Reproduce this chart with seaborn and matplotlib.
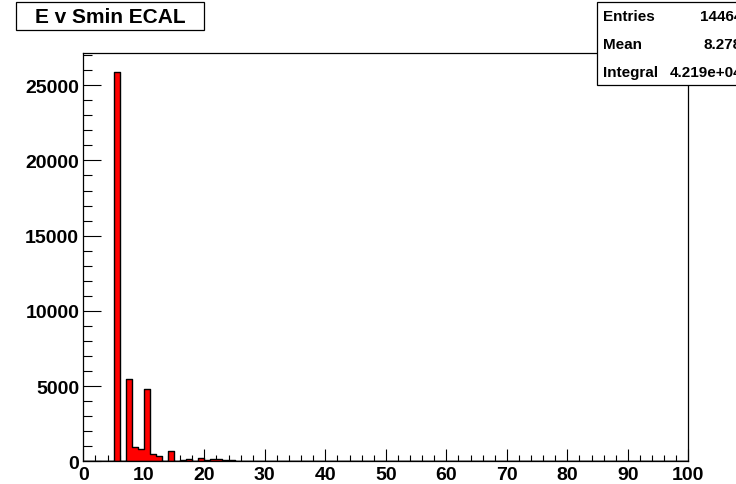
import numpy as np
import pandas as pd
import matplotlib
matplotlib.use("Agg")
import matplotlib.pyplot as plt
import seaborn as sns
from matplotlib.patches import Rectangle
from matplotlib.ticker import MultipleLocator

# ---- data (histogram bins of width 1 from 0 to 100) ----
bin_low = [5, 7, 8, 9, 10, 11, 12, 14, 15, 16, 17, 18, 19, 20, 21, 22, 23,
           24, 25, 26, 27, 28, 29, 30, 31, 32, 33, 34]
counts = [25850, 5500, 925, 815, 4790, 480, 365, 690, 20, 110, 130, 10, 200,
          115, 130, 150, 60, 60, 30, 50, 40, 30, 20, 20, 30, 15, 10, 10]
x_min, x_max, n_bins = 0, 100, 100

title_text = "E v Smin ECAL"
stats_labels = ["Entries", "Mean", "Integral"]
stats_values = ["14464", "8.278", "4.219e+04"]

bin_width = (x_max - x_min) / n_bins
df = pd.DataFrame({"x": np.array(bin_low, dtype=float) + 0.5 * bin_width,
                   "w": np.array(counts, dtype=float)})

sns.set_style("white")
plt.rcParams["font.family"] = ["Liberation Sans", "DejaVu Sans"]
plt.rcParams["font.weight"] = "bold"
for key in ["text.color", "xtick.color", "ytick.color", "axes.labelcolor", "axes.edgecolor"]:
    plt.rcParams[key] = "black"

W, H = 736, 485
fig = plt.figure(figsize=(W / 100, H / 100), dpi=100)
ax = fig.add_axes([83.3 / W, (H - 462.3) / H, (688.3 - 83.3) / W, (462.3 - 54) / H])

sns.histplot(data=df, x="x", weights="w", bins=n_bins, binrange=(x_min, x_max),
             element="step", fill=True, color="#ff0000", edgecolor="#000000",
             linewidth=1.0, alpha=1.0, ax=ax)

ax.set_xlim(x_min, x_max)
ax.set_ylim(0, max(counts) * 1.05)
ax.set_xlabel("")
ax.set_ylabel("")
ax.xaxis.set_major_locator(MultipleLocator(10))
ax.xaxis.set_minor_locator(MultipleLocator(2))
ax.yaxis.set_major_locator(MultipleLocator(5000))
ax.yaxis.set_minor_locator(MultipleLocator(1000))
ax.tick_params(axis="x", which="major", direction="in", length=8.4, width=0.8,
               labelsize=14, pad=3.5, bottom=True, top=False, colors="black")
ax.tick_params(axis="x", which="minor", direction="in", length=4.1, width=0.8,
               bottom=True, top=False, colors="black")
ax.tick_params(axis="y", which="major", direction="in", length=12.7, width=0.8,
               labelsize=14, pad=3, left=True, right=False, colors="black")
ax.tick_params(axis="y", which="minor", direction="in", length=6.5, width=0.8,
               left=True, right=False, colors="black")
for lab in ax.get_xticklabels() + ax.get_yticklabels():
    lab.set_fontweight("bold")
for sp in ax.spines.values():
    sp.set_visible(True)
    sp.set_color("black")
    sp.set_linewidth(0.9)

# ---- title box ----
fig.patches.append(Rectangle((16 / W, 1 - 31 / H), (204 - 16) / W, 28 / H,
                             transform=fig.transFigure, facecolor="white",
                             edgecolor="black", linewidth=0.9, zorder=5))
fig.text(110 / W, 1 - 17.5 / H, title_text, ha="center", va="center",
         fontsize=15, fontweight="bold", color="black", zorder=6)

# ---- stats box (runs past the right edge, as in the reference) ----
fig.patches.append(Rectangle((597 / W, 1 - 86 / H), 200 / W, 83 / H,
                             transform=fig.transFigure, facecolor="white",
                             edgecolor="black", linewidth=0.9, zorder=5))
row_y = [17, 45, 73]
for lab, val, yy in zip(stats_labels, stats_values, row_y):
    fig.text(603 / W, 1 - yy / H, lab, ha="left", va="center",
             fontsize=11, fontweight="bold", color="black", zorder=6)
    fig.text(742 / W, 1 - yy / H, val, ha="right", va="center",
             fontsize=11, fontweight="bold", color="black", zorder=6)

fig.savefig("out.png", dpi=100)
